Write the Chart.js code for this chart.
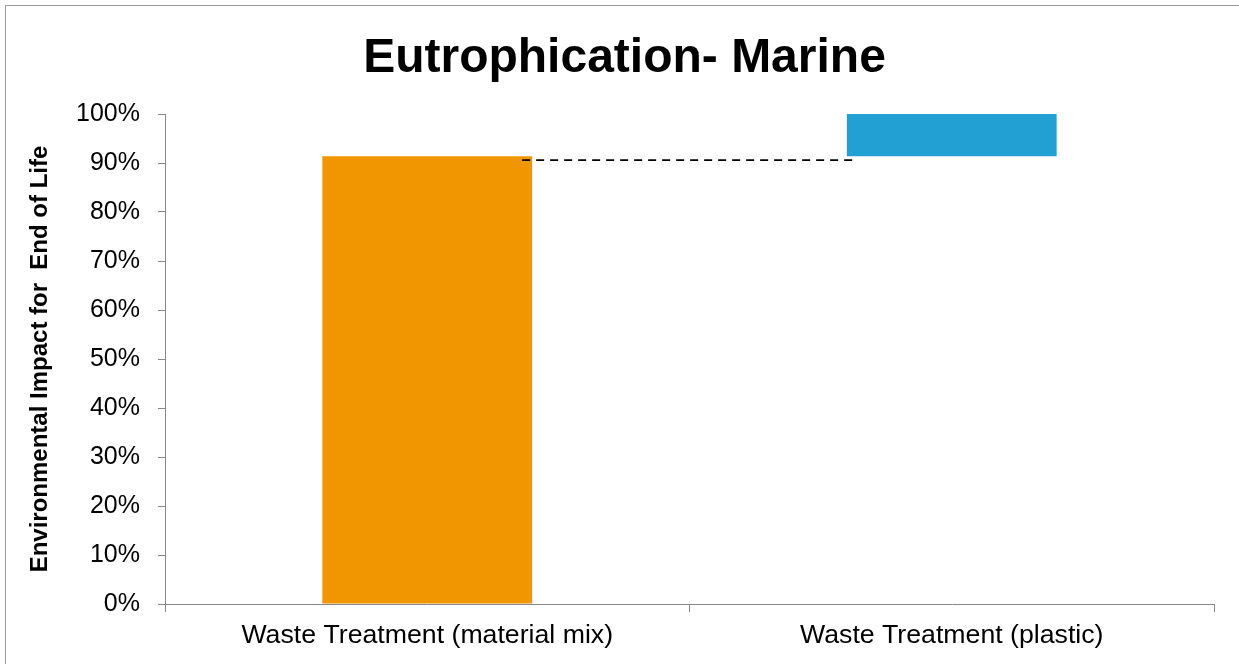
<!DOCTYPE html>
<html>
<head>
<meta charset="utf-8">
<script src="https://cdn.jsdelivr.net/npm/chart.js@4/dist/chart.umd.min.js"></script>
<style>
  html, body { margin: 0; padding: 0; background: #fff; overflow: hidden; }
  #wrap { position: relative; width: 1239px; height: 664px; }
  #frame { position: absolute; left: 5px; top: 5px; width: 1250px; height: 680px;
           border: 1.5px solid #9a9a9a; box-sizing: border-box; pointer-events: none; }
  canvas { position: absolute; left: 0; top: 0; }
</style>
</head>
<body>
<div id="wrap">
  <canvas id="chart" width="1239" height="664"></canvas>
  <div id="frame"></div>
</div>
<script>
// Waterfall steps: each bar floats from its start to its end value (percent)
const categories = ['Waste Treatment (material mix)', 'Waste Treatment (plastic)'];
const barStart = [0, 91.4];
const barEnd = [91.4, 100];
const barColors = ['#F29600', '#23A0D3'];
const connectorLevel = 90.6;
const yTicks = [0, 10, 20, 30, 40, 50, 60, 70, 80, 90, 100];

const FONT = "'Liberation Sans', Arial, Helvetica, sans-serif";

// Dashed connector from the first bar to the second bar
const connectorPlugin = {
  id: 'connector',
  afterDatasetsDraw(chart) {
    const meta = chart.getDatasetMeta(0);
    const a = meta.data[0], b = meta.data[1];
    if (!a || !b) return;
    const y = chart.scales.y.getPixelForValue(connectorLevel);
    const x0 = a.x + a.width / 2 - 10;
    const x1 = b.x - b.width / 2 + 6;
    const ctx = chart.ctx;
    ctx.save();
    ctx.strokeStyle = '#000';
    ctx.lineWidth = 1.7;
    ctx.setLineDash([8, 6]);
    ctx.beginPath();
    ctx.moveTo(x0, y);
    ctx.lineTo(x1, y);
    ctx.stroke();
    ctx.restore();
  }
};

new Chart(document.getElementById('chart'), {
  type: 'bar',
  data: {
    labels: categories,
    datasets: [{
      data: categories.map((c, i) => [barStart[i], barEnd[i]]),
      backgroundColor: barColors,
      borderWidth: 0,
      categoryPercentage: 1,
      barPercentage: 0.4
    }]
  },
  options: {
    responsive: false,
    animation: false,
    layout: { padding: { top: 0, left: 10, right: 0, bottom: 0 } },
    plugins: {
      legend: { display: false },
      tooltip: { enabled: false },
      title: {
        display: true,
        text: 'Eutrophication- Marine',
        color: '#000',
        font: { family: FONT, size: 48, weight: 'bold' },
        padding: { top: 30, bottom: 26.4 }
      }
    },
    scales: {
      x: {
        grid: { display: true, drawOnChartArea: false, offset: true, tickLength: 8, color: '#888' },
        border: { display: true, color: '#888', width: 1 },
        ticks: { color: '#000', font: { family: FONT, size: 26.7 }, padding: 8, maxRotation: 0 },
        afterFit(s) { s.height = 60; }
      },
      y: {
        min: 0,
        max: 100,
        afterBuildTicks(s) { s.ticks = yTicks.map(v => ({ value: v })); },
        grid: { display: true, drawOnChartArea: false, tickLength: 7, color: '#888' },
        border: { display: true, color: '#888', width: 1 },
        ticks: {
          color: '#000',
          font: { family: FONT, size: 25 },
          padding: 18,
          callback: v => v + '%'
        },
        title: {
          display: true,
          text: 'Environmental Impact for  End of Life',
          color: '#000',
          font: { family: FONT, size: 24, weight: 'bold' },
          padding: { top: 16, bottom: 0 }
        },
        afterFit(s) { s.width = 155; }
      },
      // empty right-hand margin column
      yRight: {
        type: 'linear',
        position: 'right',
        display: true,
        grid: { display: false },
        border: { display: false },
        ticks: { display: false },
        afterFit(s) { s.width = 25; }
      }
    }
  },
  plugins: [connectorPlugin]
});
</script>
</body>
</html>
